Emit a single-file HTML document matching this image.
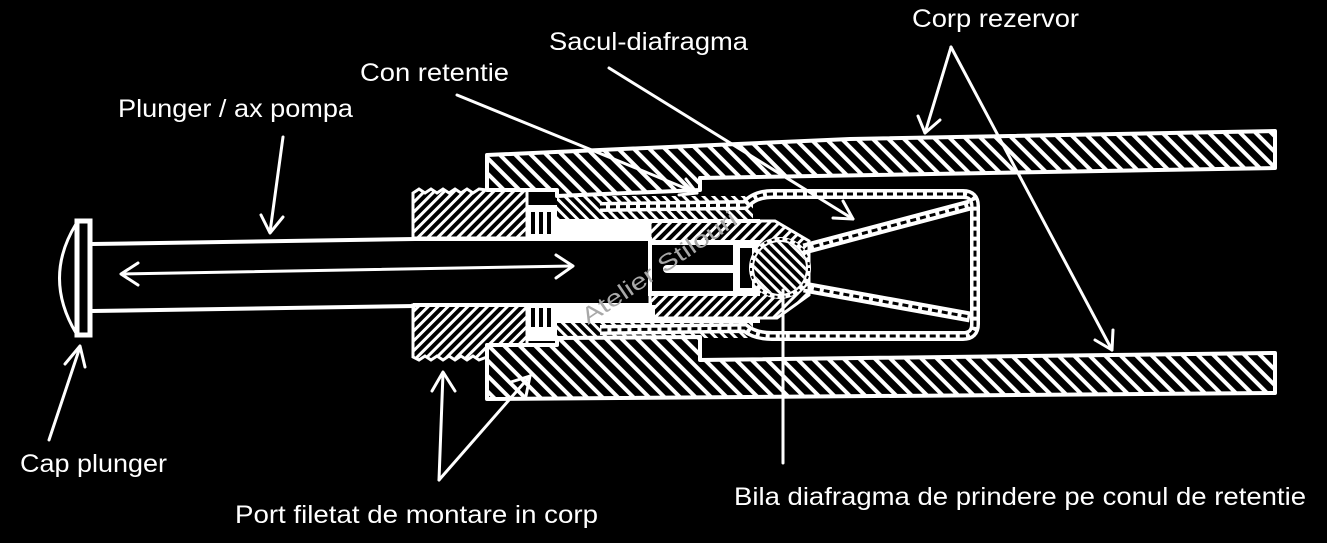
<!DOCTYPE html>
<html><head><meta charset="utf-8"><style>
html,body{margin:0;padding:0;background:#000;}
svg{display:block;}
text{font-family:"Liberation Sans",Arial,sans-serif;fill:#fff;font-size:25px;}
</style></head><body>
<svg width="1327" height="543" viewBox="0 0 1327 543" xmlns="http://www.w3.org/2000/svg">
<defs>
<pattern id="hT" width="11" height="11" patternUnits="userSpaceOnUse" patternTransform="rotate(-45)"><rect x="0" y="0" width="4" height="11" fill="#fff"/></pattern>
<pattern id="hF" width="7" height="7" patternUnits="userSpaceOnUse" patternTransform="rotate(-45)"><rect x="0" y="0" width="3" height="7" fill="#fff"/></pattern>
<pattern id="hS" width="7" height="7" patternUnits="userSpaceOnUse" patternTransform="rotate(45)"><rect x="0" y="0" width="3" height="7" fill="#fff"/></pattern>
</defs>
<rect width="1327" height="543" fill="#000"/>

<!-- tubes / housing -->
<polygon points="487,155 850,139 1275,131 1275,168 700,178 700,190 557,196 557,190 487,190" fill="url(#hT)" stroke="#fff" stroke-width="4" stroke-linejoin="round"/>
<polygon points="487,345 557,345 557,338 700,337 700,360 1275,353 1275,393 487,399" fill="url(#hT)" stroke="#fff" stroke-width="4" stroke-linejoin="round"/>

<!-- sleeve bands -->
<rect x="557" y="196" width="196" height="24" fill="url(#hF)"/>
<rect x="557" y="320" width="196" height="18" fill="url(#hF)"/>
<line x1="557" y1="221" x2="760" y2="221" stroke="#fff" stroke-width="4"/>
<line x1="557" y1="321" x2="760" y2="321" stroke="#fff" stroke-width="4"/>

<!-- threaded front piece -->
<polygon points="413,238 413,193 419,189 425,193 431,189 437,193 443,189 449,193 455,189 461,193 467,189 473,193 479,189 487,190 527,190 527,238" fill="url(#hS)" stroke="#fff" stroke-width="3"/>
<polygon points="413,305 527,305 527,345 487,345 487,357 479,360 473,356 467,360 461,356 455,360 449,356 443,360 437,356 431,360 425,356 419,360 413,357" fill="url(#hS)" stroke="#fff" stroke-width="3"/>

<!-- thread ticks -->
<rect x="527" y="205" width="30" height="33" fill="#fff"/>
<rect x="531" y="212" width="4" height="22" fill="#000"/><rect x="539" y="212" width="4" height="22" fill="#000"/><rect x="547" y="212" width="4" height="22" fill="#000"/>
<rect x="527" y="305" width="30" height="36" fill="#fff"/>
<rect x="531" y="308" width="4" height="19" fill="#000"/><rect x="539" y="308" width="4" height="19" fill="#000"/><rect x="547" y="308" width="4" height="19" fill="#000"/>

<!-- white bore bands -->
<rect x="557" y="222" width="93" height="16" fill="#fff"/>
<rect x="557" y="305" width="98" height="16" fill="#fff"/>

<!-- sac outline -->
<path d="M600,207 L745,205 Q755,194 772,194 L963,194 Q975,194 975,206 L975,324 Q975,336 963,336 L772,336 Q755,336 745,328 L600,330" fill="none" stroke="#fff" stroke-width="10"/>
<path d="M600,207 L745,205 Q755,194 772,194 L963,194 Q975,194 975,206 L975,324 Q975,336 963,336 L772,336 Q755,336 745,328 L600,330" fill="none" stroke="#000" stroke-width="3" stroke-dasharray="6 4"/>
<!-- cone bands -->
<path d="M804,249 L970,205" stroke="#fff" stroke-width="11" fill="none"/>
<path d="M804,249 L970,205" stroke="#000" stroke-width="3" stroke-dasharray="6 4" fill="none"/>
<path d="M804,287 L970,317" stroke="#fff" stroke-width="11" fill="none"/>
<path d="M804,287 L970,317" stroke="#000" stroke-width="3" stroke-dasharray="6 4" fill="none"/>

<!-- con retentie -->
<polygon points="650,221 775,221 809,241 809,295 777,318 650,318" fill="url(#hS)" stroke="#fff" stroke-width="3"/>
<rect x="648" y="240" width="112" height="56" fill="#fff"/>
<rect x="652" y="245" width="81" height="46" fill="#000"/>
<rect x="663" y="265" width="74" height="8" rx="4" fill="#fff"/>
<rect x="740" y="248" width="12" height="40" fill="#000"/>
<circle cx="780" cy="268" r="31" fill="#fff"/>
<circle cx="780" cy="268" r="26" fill="#000"/>
<circle cx="780" cy="268" r="26" fill="url(#hF)"/>
<circle cx="780" cy="268" r="29" fill="none" stroke="#000" stroke-width="2" stroke-dasharray="3 5"/>

<!-- bore lines -->
<line x1="413" y1="239" x2="652" y2="239" stroke="#fff" stroke-width="4"/>
<line x1="413" y1="305" x2="652" y2="305" stroke="#fff" stroke-width="4"/>

<!-- plunger cap & rod -->
<rect x="77" y="221" width="13" height="114" fill="#000" stroke="#fff" stroke-width="5"/>
<path d="M76,224 Q43,278 76,333" fill="none" stroke="#fff" stroke-width="3"/>
<line x1="92" y1="244" x2="415" y2="239" stroke="#fff" stroke-width="4"/>
<line x1="92" y1="311" x2="415" y2="306" stroke="#fff" stroke-width="4"/>

<!-- double arrow -->
<g stroke="#fff" stroke-width="3" fill="none" stroke-linecap="round" stroke-linejoin="round">
<line x1="122" y1="274" x2="572" y2="266"/>
<polyline points="138,263 121,274 138,285"/>
<polyline points="556,255 573,266 556,278"/>
</g>

<!-- leaders -->
<g stroke="#fff" stroke-width="3" fill="none" stroke-linecap="round" stroke-linejoin="round">
<line x1="283" y1="137" x2="270" y2="232"/><polyline points="261,215 270,233 283,217"/>
<line x1="49" y1="440" x2="80" y2="347"/><polyline points="65,364 80,346 85,367"/>
<line x1="439" y1="480" x2="443" y2="373"/><polyline points="432,391 443,372 455,391"/>
<line x1="439" y1="480" x2="530" y2="376"/><polyline points="511,382 530,376 526,396"/>
<line x1="457" y1="95" x2="697" y2="193"/><polyline points="686,179 697,193 679,195"/>
<line x1="609" y1="68" x2="853" y2="219"/><polyline points="843,201 853,219 833,218"/>
<line x1="951" y1="47" x2="925" y2="133"/><polyline points="918,116 925,133 940,120"/>
<line x1="951" y1="47" x2="1112" y2="350"/><polyline points="1095,340 1112,350 1113,330"/>
<line x1="783" y1="290" x2="783" y2="463"/>
</g>

<!-- watermark -->
<text x="588" y="325" transform="rotate(-34 588 325)" style="font-size:23px;fill:#a8a8a8;" textLength="182" lengthAdjust="spacingAndGlyphs">Atelier Stilouri</text>

<!-- labels -->
<text x="118" y="117" textLength="235" lengthAdjust="spacingAndGlyphs">Plunger / ax pompa</text>
<text x="360" y="81" textLength="149" lengthAdjust="spacingAndGlyphs">Con retentie</text>
<text x="549" y="50" textLength="199" lengthAdjust="spacingAndGlyphs">Sacul-diafragma</text>
<text x="912" y="27" textLength="167" lengthAdjust="spacingAndGlyphs">Corp rezervor</text>
<text x="20" y="472" textLength="147" lengthAdjust="spacingAndGlyphs">Cap plunger</text>
<text x="235" y="523" textLength="363" lengthAdjust="spacingAndGlyphs">Port filetat de montare in corp</text>
<text x="734" y="505" textLength="572" lengthAdjust="spacingAndGlyphs">Bila diafragma de prindere pe conul de retentie</text>
</svg>
</body></html>
